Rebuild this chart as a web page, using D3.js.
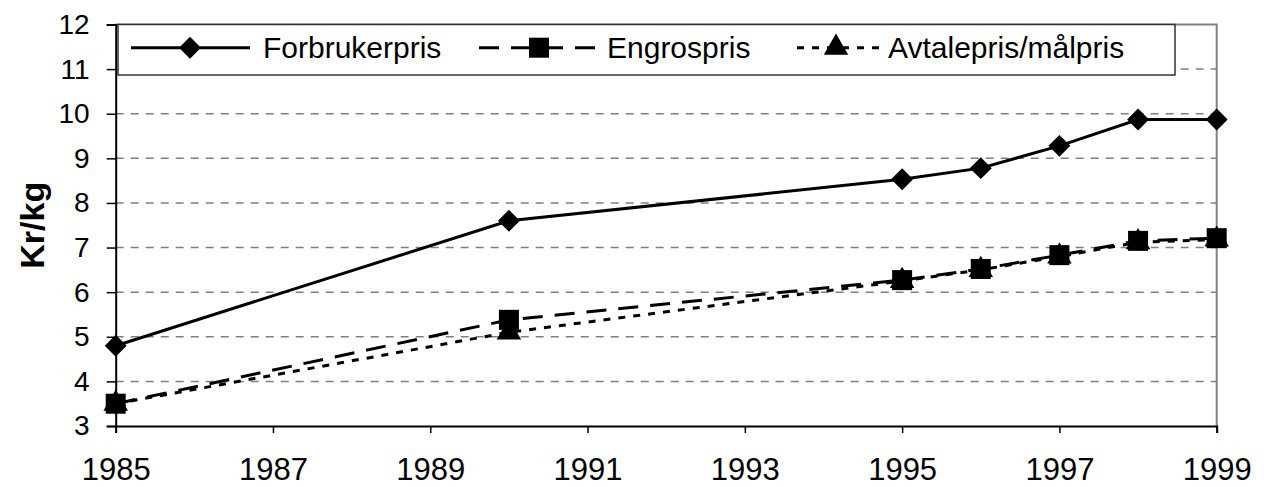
<!DOCTYPE html>
<html>
<head>
<meta charset="utf-8">
<script src="https://cdn.jsdelivr.net/npm/d3@7"></script>
<style>
  body { margin: 0; background: #fff; }
  svg { font-family: Arial, "Liberation Sans", sans-serif; display: block; }
</style>
</head>
<body>
<div id="chart"></div>
<script>
// data
const years = [1985, 1990, 1995, 1996, 1997, 1998, 1999];
const forbrukerpris = [4.8, 7.6, 8.53, 8.78, 9.28, 9.87, 9.87];
const engrospris = [3.5, 5.38, 6.27, 6.52, 6.83, 7.15, 7.21];
const avtalepris = [3.5, 5.1, 6.25, 6.5, 6.8, 7.12, 7.18];
const seriesNames = ['Forbrukerpris', 'Engrospris', 'Avtalepris/målpris'];
const xTicks = [1985, 1987, 1989, 1991, 1993, 1995, 1997, 1999];
const yTicks = [3, 4, 5, 6, 7, 8, 9, 10, 11, 12];

const W = 1264, H = 487;
const margin = { top: 24.5, right: 47.3, bottom: 61, left: 115.7 };
const width = W - margin.left - margin.right;
const height = H - margin.top - margin.bottom;

const svg = d3.select('#chart').append('svg')
    .attr('width', W)
    .attr('height', H);

const g = svg.append('g')
    .attr('transform', `translate(${margin.left},${margin.top})`);

const x = d3.scaleLinear().domain([1985, 1999]).range([0, width]);
const y = d3.scaleLinear().domain([3, 12]).range([height, 0]);

// gridlines
g.selectAll('line.grid')
    .data(yTicks.filter(d => d > 3 && d < 12))
    .join('line')
    .attr('class', 'grid')
    .attr('x1', 0).attr('x2', width)
    .attr('y1', d => y(d)).attr('y2', d => y(d))
    .attr('stroke', '#808080')
    .attr('stroke-width', 1.5)
    .attr('stroke-dasharray', '8,7');

// plot border (top + right grey)
g.append('path')
    .attr('d', `M0,0H${width}V${height}`)
    .attr('fill', 'none')
    .attr('stroke', '#808080')
    .attr('stroke-width', 2);

// axes
const yAxis = g.append('g')
    .call(d3.axisLeft(y).tickValues(yTicks).tickSize(9).tickPadding(17).tickFormat(d3.format('d')));
const xAxis = g.append('g')
    .attr('transform', `translate(0,${height})`)
    .call(d3.axisBottom(x).tickValues(xTicks).tickSize(7).tickPadding(25).tickFormat(d3.format('d')));

[yAxis, xAxis].forEach(a => {
    a.select('.domain').attr('stroke', '#000').attr('stroke-width', 2);
    a.selectAll('.tick line').attr('stroke', '#000').attr('stroke-width', 1.5);
    a.selectAll('.tick text')
        .attr('fill', '#000')
        .style('font-family', 'Arial, "Liberation Sans", sans-serif');
});
yAxis.selectAll('.tick text').style('font-size', '28px');
xAxis.selectAll('.tick text').style('font-size', '31px').attr('dy', '0.71em');

// y label
svg.append('text')
    .attr('transform', `translate(44,${margin.top + height / 2}) rotate(-90)`)
    .attr('text-anchor', 'middle')
    .style('font-size', '34px')
    .style('font-weight', 'bold')
    .text('Kr/kg');

const series = [
    { name: seriesNames[0], values: forbrukerpris, dash: null, marker: 'diamond' },
    { name: seriesNames[1], values: engrospris, dash: '20,12', marker: 'square' },
    { name: seriesNames[2], values: avtalepris, dash: '7,8', marker: 'triangle' }
];

const symbols = {
    diamond: d3.symbol().type(d3.symbolSquare).size(240),
    square: d3.symbol().type(d3.symbolSquare).size(400),
    triangle: d3.symbol().type(d3.symbolTriangle).size(260)
};

function drawMarker(sel, type) {
    sel.attr('d', symbols[type]())
        .attr('fill', '#000');
}

const line = d3.line()
    .x((d, i) => x(years[i]))
    .y(d => y(d));

series.forEach(s => {
    g.append('path')
        .datum(s.values)
        .attr('fill', 'none')
        .attr('stroke', '#000')
        .attr('stroke-width', 3)
        .attr('stroke-dasharray', s.dash)
        .attr('d', line);

    g.selectAll(null)
        .data(s.values)
        .join('path')
        .call(drawMarker, s.marker)
        .attr('transform', (d, i) => `translate(${x(years[i])},${y(d)})` +
            (s.marker === 'diamond' ? ' rotate(45)' : ''));
});

// legend
const legend = svg.append('g');
legend.append('rect')
    .attr('x', 118).attr('y', 24.5)
    .attr('width', 1175 - 118).attr('height', 75 - 24.5)
    .attr('fill', '#fff')
    .attr('stroke', '#333')
    .attr('stroke-width', 1.5);

const legendItems = [
    { x1: 131, x2: 250, mx: 190, tx: 263 },
    { x1: 479, x2: 601, mx: 539, tx: 607 },
    { x1: 797, x2: 880, mx: 836, tx: 888 }
];
const ly = 47.7;

series.forEach((s, i) => {
    const it = legendItems[i];
    legend.append('line')
        .attr('x1', it.x1).attr('x2', it.x2)
        .attr('y1', ly).attr('y2', ly)
        .attr('stroke', '#000')
        .attr('stroke-width', 3)
        .attr('stroke-dasharray', s.dash);
    legend.append('path')
        .call(drawMarker, s.marker)
        .attr('transform', `translate(${it.mx},${ly})` + (s.marker === 'diamond' ? ' rotate(45)' : ''));
    legend.append('text')
        .attr('x', it.tx)
        .attr('y', ly)
        .attr('dy', '0.35em')
        .style('font-size', '30px')
        .text(s.name);
});
</script>
</body>
</html>
